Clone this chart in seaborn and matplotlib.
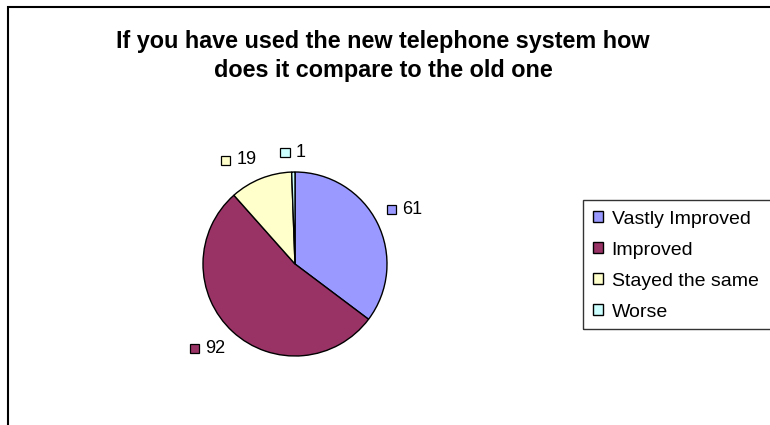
import numpy as np
import matplotlib
matplotlib.use("Agg")
import matplotlib.pyplot as plt
import seaborn as sns
from matplotlib.patches import Rectangle
from matplotlib.offsetbox import DrawingArea, TextArea, HPacker, AnnotationBbox

# survey answers
categories = ["Vastly Improved", "Improved", "Stayed the same", "Worse"]
counts = [61, 92, 19, 1]
colours = ["#9999FF", "#993366", "#FFFFCC", "#CCFFFF"]
title = "If you have used the new telephone system how\ndoes it compare to the old one"

sns.set_theme(style="white")
plt.rcParams['font.family'] = ['Liberation Sans', 'DejaVu Sans']
plt.rcParams['text.color'] = 'black'

W, H = 770, 425
fig = plt.figure(figsize=(W / 100, H / 100), dpi=100)
fig.patch.set_facecolor("white")

# outer chart frame (runs off the right and bottom edge)
fig.patches.append(Rectangle((8 / W, -0.1), 1.2, (H - 7) / H + 0.1,
                             transform=fig.transFigure, fill=False,
                             edgecolor="black", linewidth=1.5))

# pie axes: centre at (295, 264) px, radius 92 px
R = 92.0
cx, cy = 295, H - 264
ax = fig.add_axes([0, 0, 1, 1])
ax.axis("off")

wedges, _ = ax.pie(counts, colors=colours, startangle=90, counterclock=False,
                   radius=1.0, center=(0, 0), frame=False,
                   wedgeprops=dict(edgecolor="black", linewidth=1.0))
ax.set_aspect("auto")
ax.set_xlim(-cx / R, (W - cx) / R)
ax.set_ylim(-cy / R, (H - cy) / R)

# data labels (key square + value) placed just outside each slice
for w, n, col in zip(wedges, counts, colours):
    mid = np.deg2rad((w.theta1 + w.theta2) / 2)
    c, s = np.cos(mid), np.sin(mid)
    da = DrawingArea(7, 7, 0, 0)
    da.add_artist(Rectangle((0, 0), 6.5, 6.5, facecolor=col,
                            edgecolor="black", linewidth=0.9))
    ta = TextArea(str(n), textprops=dict(fontsize=13, color="black"))
    box = HPacker(children=[da, ta], align="center", pad=0, sep=4)
    ha = 0 if c > 0.1 else (1 if c < -0.1 else 0.5)
    va = 0 if s > 0.1 else (1 if s < -0.1 else 0.5)
    ab = AnnotationBbox(box, (1.12 * c, 1.12 * s), xycoords="data",
                        box_alignment=(ha, va), frameon=False, pad=0)
    ax.add_artist(ab)

fig.text(383 / W, 1 - 56 / H, title, ha="center", va="center",
         fontsize=16.8, fontweight="bold", linespacing=1.35, color="black")

# legend box (also runs off the right edge)
fig.patches.append(Rectangle((583 / W, 1 - 329 / H), 1.0, 129 / H,
                             transform=fig.transFigure, fill=False,
                             edgecolor="#333333", linewidth=1.0))
leg = fig.legend(wedges, categories, loc="upper left",
                 bbox_to_anchor=(583 / W, 1 - 201 / H),
                 bbox_transform=fig.transFigure, fontsize=14,
                 frameon=False, handlelength=0.52, handleheight=0.52,
                 handletextpad=0.45, labelspacing=0.72, borderpad=0.5,
                 borderaxespad=0)
for t in leg.get_texts():
    t.set_color("black")

fig.savefig("out.png", dpi=100)
